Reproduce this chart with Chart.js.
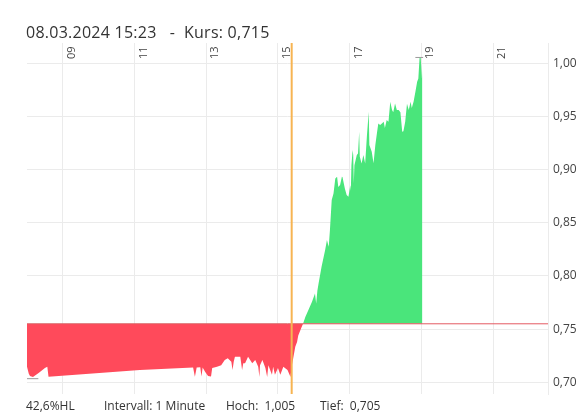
<!DOCTYPE html>
<html>
<head>
<meta charset="utf-8">
<script src="https://cdn.jsdelivr.net/npm/chart.js@4.4.1/dist/chart.umd.min.js"></script>
<style>
  html, body { margin: 0; padding: 0; background: #fff; }
  #wrap { position: relative; width: 586px; height: 415px; overflow: hidden; font-family: "Open Sans", sans-serif; color: #333; }
  #c { position: absolute; left: 0; top: 0; }
  .t { position: absolute; white-space: pre; }
  #title { left: 26px; top: 20.5px; font-size: 16px; letter-spacing: 0.25px; color: #333; }
  .foot { top: 397px; font-size: 12px; color: #333; }
</style>
</head>
<body>
<div id="wrap">
  <canvas id="c" width="586" height="415"></canvas>
  <div id="title" class="t">08.03.2024 15:23   -  Kurs: 0,715</div>
  <div class="t foot" style="left:26px">42,6%HL</div>
  <div class="t foot" style="left:104px">Intervall: 1 Minute</div>
  <div class="t foot" style="left:226px">Hoch:  1,005</div>
  <div class="t foot" style="left:320px">Tief:  0,705</div>
</div>
<script>
// ---- data ----
const times = ["08:00","08:03","08:05","08:10","08:20","08:30","08:34","08:36","11:09","12:38","12:41","12:44","12:50","12:52","12:54","12:58","13:03","13:08","13:10","13:18","13:25","13:31","13:36","13:42","13:44","13:46","13:48","13:57","14:00","14:02","14:05","14:10","14:17","14:22","14:27","14:29","14:30","14:34","14:39","14:42","14:44","14:50","14:52","14:55","15:00","15:04","15:09","15:16","15:21","15:23","15:24","15:26","15:29","15:32","15:34","15:39","15:42","15:46","15:51","15:57","16:02","16:04","16:06","16:08","16:13","16:19","16:22","16:25","16:27","16:30","16:33","16:36","16:39","16:41","16:44","16:47","16:48","16:52","16:55","16:58","17:01","17:02","17:03","17:05","17:06","17:07","17:08","17:12","17:14","17:16","17:17","17:20","17:23","17:26","17:29","17:32","17:33","17:37","17:40","17:43","17:46","17:48","17:51","17:54","17:57","17:59","18:02","18:05","18:08","18:11","18:13","18:16","18:19","18:22","18:25","18:28","18:30","18:33","18:36","18:39","18:42","18:44","18:47","18:50","18:53","18:55","18:57","18:59","19:01","19:02"];
const prices = [0.7147,0.7080,0.7060,0.7050,0.7090,0.7135,0.7147,0.7053,0.7116,0.7140,0.7053,0.7140,0.7142,0.7055,0.7140,0.7100,0.7060,0.7055,0.7134,0.7147,0.7160,0.7210,0.7225,0.7194,0.7116,0.7194,0.7240,0.7240,0.7116,0.7179,0.7179,0.7240,0.7180,0.7210,0.7147,0.7050,0.7160,0.7210,0.7134,0.7050,0.7160,0.7070,0.7147,0.7070,0.7134,0.7070,0.7147,0.7116,0.7050,0.7150,0.7180,0.7240,0.7335,0.7380,0.7440,0.7510,0.7550,0.7617,0.7680,0.7758,0.7836,0.7740,0.7860,0.7930,0.8086,0.8243,0.8337,0.8275,0.8430,0.8714,0.8776,0.8917,0.8932,0.8837,0.8854,0.8932,0.8930,0.8823,0.8760,0.8744,0.8850,0.8800,0.9040,0.9184,0.9136,0.8870,0.9040,0.9136,0.9152,0.9355,0.9120,0.9058,0.9136,0.9058,0.9324,0.9543,0.9230,0.9167,0.9060,0.9230,0.9355,0.9434,0.9420,0.9434,0.9450,0.9390,0.9465,0.9450,0.9637,0.9560,0.9540,0.9622,0.9560,0.9560,0.9540,0.9355,0.9360,0.9450,0.9620,0.9560,0.9637,0.9580,0.9637,0.9730,0.9825,0.9857,1.0050,1.0050,0.9857,0.9935];
const prevClose = 0.755;
const cursorTime = "15:23";
const highTimes = ["18:50","19:03"];
const highValue = 1.0054;
const lowTimes = ["08:00","08:19"];
const lowValue = 0.7034;
const xRange = ["08:00","22:32"];
const yRange = [0.689, 1.019];
const xTickTimes = ["09:00","11:00","13:00","15:00","17:00","19:00","21:00"];
const xTickLabels = ["09","11","13","15","17","19","21"];
const yTickValues = [0.70,0.75,0.80,0.85,0.90,0.95,1.00];
const yTickLabels = ["0,70","0,75","0,80","0,85","0,90","0,95","1,00"];

// ---- helpers ----
const toH = s => { const [h, m] = s.split(":").map(Number); return h + m / 60; };
const series = times.map((t, i) => ({ x: toH(t), y: prices[i] }));
const xMin = toH(xRange[0]), xMax = toH(xRange[1]);

const GRID = '#ebebeb';

const xLabelPlugin = {
  id: 'xLabels',
  afterDraw(chart) {
    const ctx = chart.ctx, sx = chart.scales.x, area = chart.chartArea;
    ctx.save();
    ctx.font = '11px "Open Sans"';
    ctx.fillStyle = '#444';
    ctx.textAlign = 'left';
    ctx.textBaseline = 'middle';
    sx.ticks.forEach((tk, i) => {
      const px = sx.getPixelForValue(tk.value);
      ctx.save();
      ctx.translate(px + 9, area.top + 16);
      ctx.rotate(-Math.PI / 2);
      ctx.fillText(xTickLabels[i], 0, 0);
      ctx.restore();
    });
    ctx.restore();
  }
};

new Chart(document.getElementById('c'), {
  type: 'line',
  data: {
    datasets: [
      {
        data: series,
        borderWidth: 0,
        borderColor: 'rgba(0,0,0,0)',
        pointRadius: 0,
        tension: 0,
        fill: { target: { value: prevClose }, above: '#4ae57b', below: '#ff4a5b' },
        order: 3
      },
      {
        data: [{ x: xMin, y: prevClose }, { x: xMax, y: prevClose }],
        borderColor: '#e45a62', borderWidth: 1, pointRadius: 0, fill: false, order: 2
      },
      {
        data: highTimes.map(t => ({ x: toH(t), y: highValue })),
        borderColor: '#9a9a9a', borderWidth: 1, pointRadius: 0, fill: false, order: 2
      },
      {
        data: lowTimes.map(t => ({ x: toH(t), y: lowValue })),
        borderColor: '#9a9a9a', borderWidth: 1, pointRadius: 0, fill: false, order: 2
      },
      {
        data: [{ x: toH(cursorTime), y: yRange[0] }, { x: toH(cursorTime), y: yRange[1] }],
        borderColor: '#f7b452', borderWidth: 2, pointRadius: 0, fill: false, order: 1
      }
    ]
  },
  options: {
    responsive: false,
    animation: false,
    layout: { padding: { left: 27, top: 43, right: 0, bottom: 21 } },
    plugins: { legend: { display: false }, tooltip: { enabled: false } },
    scales: {
      x: {
        type: 'linear',
        position: 'top',
        min: xMin, max: xMax,
        afterBuildTicks: s => { s.ticks = xTickTimes.map(t => ({ value: toH(t) })); },
        afterFit: s => { s.height = 0; },
        ticks: { display: false },
        grid: { color: GRID, drawTicks: false },
        border: { display: false }
      },
      y: {
        position: 'right',
        min: yRange[0], max: yRange[1],
        afterBuildTicks: s => { s.ticks = yTickValues.map(v => ({ value: v })); },
        afterFit: s => { s.width = 38; },
        ticks: {
          padding: 5,
          color: '#444',
          font: { family: 'Open Sans', size: 12 },
          callback: (v) => { const i = yTickValues.findIndex(t => Math.abs(t - v) < 1e-6); return i >= 0 ? yTickLabels[i] : ''; }
        },
        grid: { color: GRID, drawTicks: false },
        border: { display: true, color: GRID }
      }
    }
  },
  plugins: [xLabelPlugin]
});
</script>
</body>
</html>
